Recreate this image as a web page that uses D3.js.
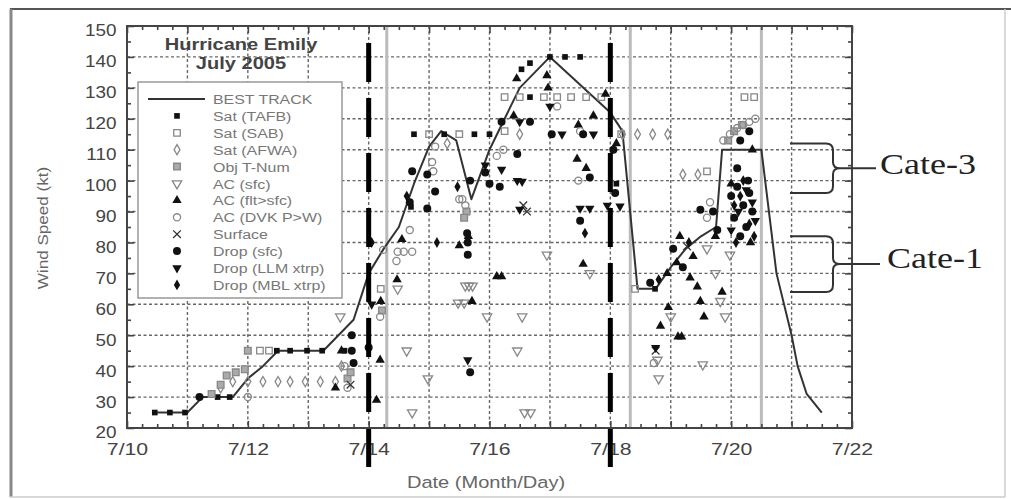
<!DOCTYPE html>
<html>
<head>
<meta charset="utf-8">
<script src="https://cdn.jsdelivr.net/npm/d3@7"></script>
<style>
  html, body { margin: 0; padding: 0; background: #fff; }
  svg { display: block; font-family: "Liberation Sans", Arial, sans-serif; }
</style>
</head>
<body>
<div id="chart"></div>
<script>
// ── Data (day of July, wind speed kt) ─────────────────────────────
const bestTrack = [
  [10.5,25],[11,25],[11.25,30],[11.5,30],[11.75,30],[12,36],[12.25,40],[12.5,45],
  [12.75,45],[13,45],[13.25,45],[13.5,50],[13.75,55],[14,70],[14.25,78],[14.5,85],
  [14.75,99],[15,111],[15.2,116],[15.45,113],[15.7,94],[16,110],[16.25,120],[16.5,130],
  [16.75,135],[17,140],[17.5,131],[18,122],[18.2,116],[18.45,65],[18.75,65],[19,72],
  [19.25,78],[19.5,82],[19.75,85],[19.85,110],[20.5,110],[20.75,70],[21,50],[21.1,40],
  [21.25,31],[21.5,25]
];
const satTafb = [
  [10.46,25],[10.71,25],[10.96,25],[11.5,30],[11.7,30],
  [12.48,45],[12.7,45],[12.98,45],[13.23,45],[13.6,45],
  [14.75,115],[15.25,115],[15.75,115],[16.0,115],[14.7,91.5],
  [16.53,136],[16.67,138],[17.0,140],[17.25,140],[17.5,140],
  [16.67,127],[18.1,99],[18.74,65]
];
const satSab = [
  [12.2,45],[12.35,45],[15.0,115],[15.5,115],[16.25,116],
  [16.25,127],[16.5,127],[16.9,127],[17.12,127],[17.35,127],[17.6,127],[17.85,127],
  [14.2,65],[18.41,65],[19.6,103],[20.22,127],[20.38,127],[18.18,115]
];
const satAfwa = [
  [11.55,33],[11.75,35],[12.0,35],[12.25,35],[12.5,35],[12.7,35],[12.95,35],[13.2,35],[13.45,35],
  [16.5,115],[18.2,115],[18.45,115],[18.7,115],[18.95,115],
  [19.2,102],[19.45,102],[13.55,40],[15.3,112]
];
const objTnum = [
  [11.4,31],[11.55,34],[11.65,37],[11.8,38],[11.95,39],[12.0,45],[13.65,36],[13.7,38],
  [14.22,58],[15.62,90],[15.58,88],[19.95,113],[20.05,116],[20.18,118]
];
const acSfc = [
  [13.53,56],[14.48,65],[14.63,45],[14.72,25],[14.98,36],[15.48,60.5],[15.58,60.5],
  [15.6,66],[15.66,66],[15.72,66],[15.96,56],[16.46,45],[16.54,56],[16.58,25],[16.68,25],
  [16.95,76],[17.66,70],[18.8,36],[19.0,56],[19.53,40.5],[19.6,78],[19.74,70],
  [19.82,61],[19.9,56],[19.98,76],[18.78,42]
];
const acFlt = [
  [13.45,33],[13.55,45],[14.13,29],[14.19,42],[14.2,61],[14.47,68],[14.55,81],[15.5,79],
  [15.65,82],[15.71,61],[16.12,69],[16.2,69],[16.4,121],[16.45,133],[16.95,134],[16.97,130],
  [17.45,107],[17.47,118],[17.55,73],[17.6,104],[17.72,121],[17.92,128],[18.1,112],
  [18.83,53],[18.94,70],[18.96,59],[19.1,73.5],[19.12,49.5],[19.18,49.5],[19.15,82],
  [19.32,68.6],[19.37,75.5],[19.44,65.7],[19.49,61],[19.74,82],[19.85,64],[19.55,56],
  [20.35,110],[20.0,99],[20.32,80]
];
const acDvk = [
  [12.0,30],[14.19,56],[14.24,77.6],[14.46,74],[14.48,77],[14.58,77],[14.72,77],[14.68,84],
  [15.05,106],[15.07,103],[15.1,111],[15.5,94],[15.55,94],[15.6,92],[16.12,108],[16.23,110],
  [17.12,124],[17.47,100],[17.5,116],[18.72,41],[19.87,113],[19.98,115],[20.1,117],
  [20.2,118],[20.3,119],[20.4,120],[19.6,88],[19.65,93],[13.6,40],[13.65,33]
];
const surface = [[16.56,92],[16.62,90],[18.75,45],[19.27,78.7],[13.7,34]];
const dropSfc = [
  [11.2,30],[13.72,50],[13.72,45],[13.75,41],[14.0,46],[14.68,93],[14.72,103],[14.97,102],
  [14.97,91],[15.1,96.5],[15.63,83],[15.64,76],[15.64,80],[15.68,100],[15.68,38],
  [15.93,102.6],[16.0,99],[16.17,98],[16.46,108.6],[16.67,119],[17.03,115],[17.55,115],
  [17.66,101],[17.5,87],[18.05,110],[18.08,96],[18.66,67],[19.04,78],[19.2,72],
  [19.49,90.6],[19.77,84],[16.2,119],[19.7,90],
  [20.0,95],[20.1,98],[20.2,92],[20.3,96],[20.05,88],[20.25,85],[20.15,82],[20.35,90],
  [20.1,104],[20.28,100],[20.15,113],[20.3,116]
];
const dropLlm = [
  [14.05,60],[15.64,42],[15.93,105],[16.2,103.6],[16.46,100],[16.5,90.7],[16.5,119],
  [16.54,99.7],[17.0,124],[17.2,115],[17.72,115],[17.5,91],[17.66,91],[18.16,91.7],
  [17.95,92],[18.75,46],[20.12,90],[20.25,97],[20.0,84],[20.35,93],[20.4,87]
];
const dropMbl = [
  [14.05,80],[14.63,95],[15.13,80],[15.47,98],[18.8,68],[17.58,83],
  [20.05,92],[20.15,95],[20.3,86],[20.2,100],[20.38,82],[20.08,80],[19.3,80]
];

const xLabelDays = [10, 12, 14, 16, 18, 20, 22];
const yTicks = d3.range(20, 151, 10);
const thickDashDays = [14, 18];        // heavy dashed markers
const grayLineDays = [14.3, 18.33, 20.5];
const categories = [
  { label: "Cate-3", lo: 96, hi: 112 },
  { label: "Cate-1", lo: 64, hi: 82 }
];

// ── Setup ─────────────────────────────────────────────────────────
const W = 1011, H = 499;
const svg = d3.select("#chart").append("svg").attr("width", W).attr("height", H);

const x = d3.scaleLinear().domain([10, 22]).range([127, 852]);
const y = d3.scaleLinear().domain([20, 150]).range([428, 26]);

// text with a slight horizontal stretch (the source image is widened)
function sText(parent, px, py, txt, opt = {}) {
  const g = parent.append("g")
    .attr("transform", `translate(${px},${py}) ${opt.rotate ? `rotate(${opt.rotate})` : ""} scale(${opt.sx || 1.18},1)`);
  return g.append("text")
    .attr("text-anchor", opt.anchor || "start")
    .style("font-size", (opt.size || 16) + "px")
    .style("font-weight", opt.weight || "normal")
    .style("font-family", opt.family || null)
    .attr("fill", opt.fill || "#333")
    .text(txt);
}

// outer picture frame
svg.append("line").attr("x1", 10).attr("x2", W).attr("y1", 9).attr("y2", 9)
  .attr("stroke", "#555").attr("stroke-width", 2);
svg.append("line").attr("x1", 11).attr("x2", 11).attr("y1", 9).attr("y2", 497)
  .attr("stroke", "#888").attr("stroke-width", 3);
svg.append("line").attr("x1", 10).attr("x2", 1005).attr("y1", 497).attr("y2", 497)
  .attr("stroke", "#ccc").attr("stroke-width", 1.5);
svg.append("line").attr("x1", 1005).attr("x2", 1005).attr("y1", 9).attr("y2", 497)
  .attr("stroke", "#ccc").attr("stroke-width", 1.5);

// ── Grid ──────────────────────────────────────────────────────────
const grid = svg.append("g");
grid.selectAll(".vg").data(d3.range(11, 22)).join("line")
  .attr("x1", d => x(d)).attr("x2", d => x(d))
  .attr("y1", y(150)).attr("y2", y(20))
  .attr("stroke", "#666").attr("stroke-width", 1.4).attr("stroke-dasharray", "3,2.5");
grid.selectAll(".hg").data(d3.range(30, 150, 10)).join("line")
  .attr("x1", x(10)).attr("x2", x(22))
  .attr("y1", d => y(d)).attr("y2", d => y(d))
  .attr("stroke", "#666").attr("stroke-width", 1.4).attr("stroke-dasharray", "3,2.5");

// gray vertical event lines
svg.selectAll(".gl").data(grayLineDays).join("line")
  .attr("x1", d => x(d)).attr("x2", d => x(d))
  .attr("y1", y(150)).attr("y2", y(20))
  .attr("stroke", "#bbb").attr("stroke-width", 3);

// ── Ticks (inward on all four sides) ──────────────────────────────
const xMajor = d3.range(10, 22.001, 1);
const xMinor = d3.range(10, 22.001, 0.25).filter(d => d % 1 !== 0);
const yMajor = d3.range(20, 150.001, 10);
const yMinor = d3.range(25, 150, 10);

function ticks(axisFn, scale, vals, size, tr) {
  svg.append("g").attr("transform", tr)
    .call(axisFn(scale).tickValues(vals).tickSize(size).tickFormat(""))
    .call(g => g.select(".domain").remove())
    .selectAll("line").attr("stroke", "#444").attr("stroke-width", 1.6);
}
ticks(d3.axisBottom, x, xMajor, -7, `translate(0,${y(20)})`);
ticks(d3.axisBottom, x, xMinor, -4, `translate(0,${y(20)})`);
ticks(d3.axisTop, x, xMajor, -7, `translate(0,${y(150)})`);
ticks(d3.axisTop, x, xMinor, -4, `translate(0,${y(150)})`);
ticks(d3.axisLeft, y, yMajor, -7, `translate(${x(10)},0)`);
ticks(d3.axisLeft, y, yMinor, -4, `translate(${x(10)},0)`);
ticks(d3.axisRight, y, yMajor, -7, `translate(${x(22)},0)`);
ticks(d3.axisRight, y, yMinor, -4, `translate(${x(22)},0)`);

// tick labels
svg.append("g").attr("transform", `translate(0,${y(20)})`)
  .call(d3.axisBottom(x).tickValues(xLabelDays).tickSize(0).tickFormat(d => "7/" + d))
  .call(g => g.select(".domain").remove())
  .selectAll("text")
    .attr("y", 27).attr("dy", 0)
    .attr("transform", "scale(1.25,1)")
    .style("font-size", "17px").attr("fill", "#444");

svg.append("g").attr("transform", `translate(${x(10)},0)`)
  .call(d3.axisLeft(y).tickValues(yTicks).tickSize(0).tickFormat(d3.format("d")))
  .call(g => g.select(".domain").remove())
  .selectAll("text")
    .attr("x", -9).attr("dy", "0.62em")
    .attr("transform", "scale(1.18,1)")
    .style("font-size", "16px").attr("fill", "#444");

// axis titles
sText(svg, 486, 488, "Date (Month/Day)", { anchor: "middle", size: 17, fill: "#666" });
sText(svg, 48, 228, "Wind Speed (kt)", { anchor: "middle", size: 15, fill: "#666", rotate: -90, sx: 1.14 });

// ── Best track ────────────────────────────────────────────────────
svg.append("path")
  .datum(bestTrack)
  .attr("fill", "none").attr("stroke", "#333").attr("stroke-width", 2)
  .attr("stroke-linejoin", "round")
  .attr("d", d3.line().x(d => x(d[0])).y(d => y(d[1])));

// ── Observation series ────────────────────────────────────────────
const symX = d3.symbolTimes || d3.symbolX || d3.symbolCross;
const series = [
  { name: "Sat (TAFB)",     data: satTafb, type: d3.symbolSquare,   size: 32, fill: "#111", stroke: "none" },
  { name: "Sat (SAB)",      data: satSab,  type: d3.symbolSquare,   size: 42, fill: "none", stroke: "#888" },
  { name: "Sat (AFWA)",     data: satAfwa, type: d3.symbolDiamond,  size: 30, fill: "none", stroke: "#888" },
  { name: "Obj T-Num",      data: objTnum, type: d3.symbolSquare,   size: 45, fill: "#aaa", stroke: "#888" },
  { name: "AC (sfc)",       data: acSfc,   type: d3.symbolTriangle, size: 38, fill: "none", stroke: "#888", rot: 180 },
  { name: "AC (flt>sfc)",   data: acFlt,   type: d3.symbolTriangle, size: 38, fill: "#111", stroke: "none" },
  { name: "AC (DVK P>W)",   data: acDvk,   type: d3.symbolCircle,   size: 40, fill: "none", stroke: "#888" },
  { name: "Surface",        data: surface, type: symX,              size: 40, fill: "none", stroke: "#333" },
  { name: "Drop (sfc)",     data: dropSfc, type: d3.symbolCircle,   size: 50, fill: "#111", stroke: "none" },
  { name: "Drop (LLM xtrp)",data: dropLlm, type: d3.symbolTriangle, size: 38, fill: "#111", stroke: "none", rot: 180 },
  { name: "Drop (MBL xtrp)",data: dropMbl, type: d3.symbolDiamond,  size: 34, fill: "#111", stroke: "none" }
];

series.forEach(s => {
  svg.append("g").selectAll("path").data(s.data).join("path")
    .attr("d", d3.symbol().type(s.type).size(s.size))
    .attr("transform", d => `translate(${x(d[0])},${y(d[1])}) rotate(${s.rot || 0})`)
    .attr("fill", s.fill).attr("stroke", s.stroke).attr("stroke-width", 1.3);
});

// ── Heavy dashed markers (drawn over the plot, past the axis) ─────
svg.selectAll(".td").data(thickDashDays).join("line")
  .attr("x1", d => x(d)).attr("x2", d => x(d))
  .attr("y1", 43).attr("y2", 473)
  .attr("stroke", "#000").attr("stroke-width", 5).attr("stroke-dasharray", "39,16");

// plot frame
svg.append("rect")
  .attr("x", x(10)).attr("y", y(150))
  .attr("width", x(22) - x(10)).attr("height", y(20) - y(150))
  .attr("fill", "none").attr("stroke", "#444").attr("stroke-width", 2);

// ── Title ─────────────────────────────────────────────────────────
sText(svg, 241, 50, "Hurricane Emily", { anchor: "middle", size: 17, weight: "bold", fill: "#444" });
sText(svg, 241, 69, "July 2005", { anchor: "middle", size: 17, weight: "bold", fill: "#444" });

// ── Legend ────────────────────────────────────────────────────────
const leg = svg.append("g");
leg.append("rect").attr("x", 138).attr("y", 82).attr("width", 204).attr("height", 216)
  .attr("fill", "#fff").attr("stroke", "#999").attr("stroke-width", 1.5);
const rowY = i => 99 + i * 16.9;
leg.append("line").attr("x1", 148).attr("x2", 205).attr("y1", rowY(0)).attr("y2", rowY(0))
  .attr("stroke", "#333").attr("stroke-width", 2);
sText(leg, 213, rowY(0) + 5, "BEST TRACK", { size: 13.5, fill: "#777" });
series.forEach((s, i) => {
  const yy = rowY(i + 1);
  leg.append("path")
    .attr("d", d3.symbol().type(s.type).size(s.size))
    .attr("transform", `translate(177,${yy}) rotate(${s.rot || 0})`)
    .attr("fill", s.fill).attr("stroke", s.stroke).attr("stroke-width", 1.3);
  sText(leg, 213, yy + 5, s.name, { size: 13.5, fill: "#777" });
});

// ── Category braces ───────────────────────────────────────────────
const x0 = 790, xa = 826, xv = 833, xp = 840;
categories.forEach((c, i) => {
  const yt = y(c.hi), yb = y(c.lo), ym = (yt + yb) / 2;
  svg.append("path")
    .attr("d", `M${x0},${yt} L${xa},${yt} Q${xv},${yt} ${xv},${yt + 7} L${xv},${ym - 6} Q${xv},${ym} ${xp},${ym}` +
               ` Q${xv},${ym} ${xv},${ym + 6} L${xv},${yb - 7} Q${xv},${yb} ${xa},${yb} L${x0},${yb}` +
               ` M${xp},${ym} L${i === 0 ? 876 : 880},${ym}`)
    .attr("fill", "none").attr("stroke", "#333").attr("stroke-width", 2);
  sText(svg, i === 0 ? 880 : 887, ym + (i === 0 ? 6 : 4), c.label,
    { size: 30, fill: "#222", family: "'Liberation Serif', 'Times New Roman', serif", sx: 1.2 });
});
</script>
</body>
</html>
